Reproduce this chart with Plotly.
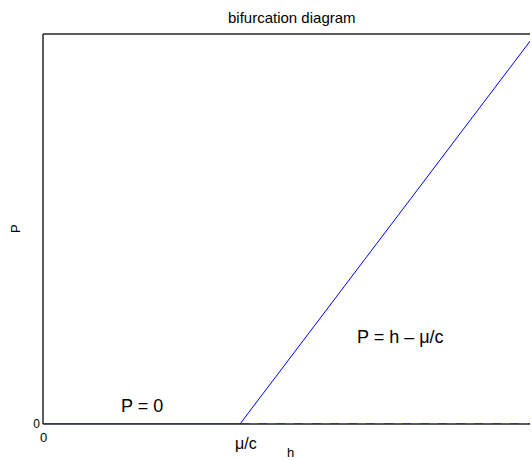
import plotly.graph_objects as go

# Bifurcation of the steady state P with respect to h (threshold at h = mu/c = 1)
threshold = 1.0
h_max = 2.5

stable_zero_h = [0.0, threshold]
stable_zero_p = [0.0, 0.0]
unstable_zero_h = [threshold, h_max]
unstable_zero_p = [0.0, 0.0]
branch_h = [threshold, h_max]
branch_p = [0.0, h_max - threshold]

x_tick_vals = [0.0, threshold]
x_tick_text = ["0", "\u03bc/c"]
x_tick_sizes = [13, 16]

FONT = "Liberation Sans, Arial, Helvetica, sans-serif"
BLUE = "#0000ff"
AXIS = "#262626"

fig = go.Figure()
fig.add_trace(go.Scatter(x=unstable_zero_h, y=unstable_zero_p, mode="lines",
                         line=dict(color=BLUE, width=1.2, dash="dash")))
fig.add_trace(go.Scatter(x=stable_zero_h, y=stable_zero_p, mode="lines",
                         line=dict(color=BLUE, width=1.2)))
fig.add_trace(go.Scatter(x=branch_h, y=branch_p, mode="lines",
                         line=dict(color=BLUE, width=1)))

# axes box: left, bottom and top edges (right edge falls past the page)
for x0, y0, x1, y1 in [(0, 0, 0, 1), (0, 0, 1.0, 0), (0, 1, 1.0, 1)]:
    fig.add_shape(type="line", xref="paper", yref="paper", x0=x0, y0=y0, x1=x1, y1=y1,
                  line=dict(color=AXIS, width=1.5), layer="below")

# x tick labels, hung below the axis
for xv, txt, sz in zip(x_tick_vals, x_tick_text, x_tick_sizes):
    fig.add_annotation(x=xv, y=0, xref="x", yref="paper", text=txt, showarrow=False,
                       yanchor="top", yshift=-4 if sz < 14 else -9, xshift=0 if sz < 14 else 6,
                       font=dict(size=sz, color="black", family=FONT))

fig.add_annotation(x=0.5, y=0.068, xref="x", yref="y", text="P = 0", showarrow=False,
                   font=dict(size=18, color="black", family=FONT))
fig.add_annotation(x=1.815, y=0.335, xref="x", yref="y", text="P = h \u2013 \u03bc/c", showarrow=False,
                   font=dict(size=18, color="black", family=FONT))
fig.add_annotation(x=0.512, y=1.0, xref="paper", yref="paper", yshift=6, yanchor="bottom",
                   text="bifurcation diagram", showarrow=False,
                   font=dict(size=15, color="black", family=FONT))
fig.add_annotation(x=0.509, y=0, xref="paper", yref="paper", yshift=-28, yanchor="middle",
                   text="h", showarrow=False,
                   font=dict(size=13, color="black", family=FONT))
fig.add_annotation(x=0, y=0.5, xref="paper", yref="paper", xshift=-28, xanchor="center",
                   text="P", textangle=-90, showarrow=False,
                   font=dict(size=13, color="black", family=FONT))

fig.update_layout(
    width=532, height=460,
    margin=dict(l=43, r=2, t=34, b=36),
    paper_bgcolor="white", plot_bgcolor="white",
    showlegend=False,
    font=dict(family=FONT, size=13, color="black"),
)
fig.update_xaxes(range=[0, 487 / 197], showticklabels=False,
                 showgrid=False, zeroline=False, showline=False, ticks="")
fig.update_yaxes(range=[0, 1.5], tickvals=[0], ticktext=["0"],
                 showgrid=False, zeroline=False, showline=False,
                 ticks="", tickfont=dict(size=12), ticklabelstandoff=2)

fig.write_html("out.html", config={"displayModeBar": False})
